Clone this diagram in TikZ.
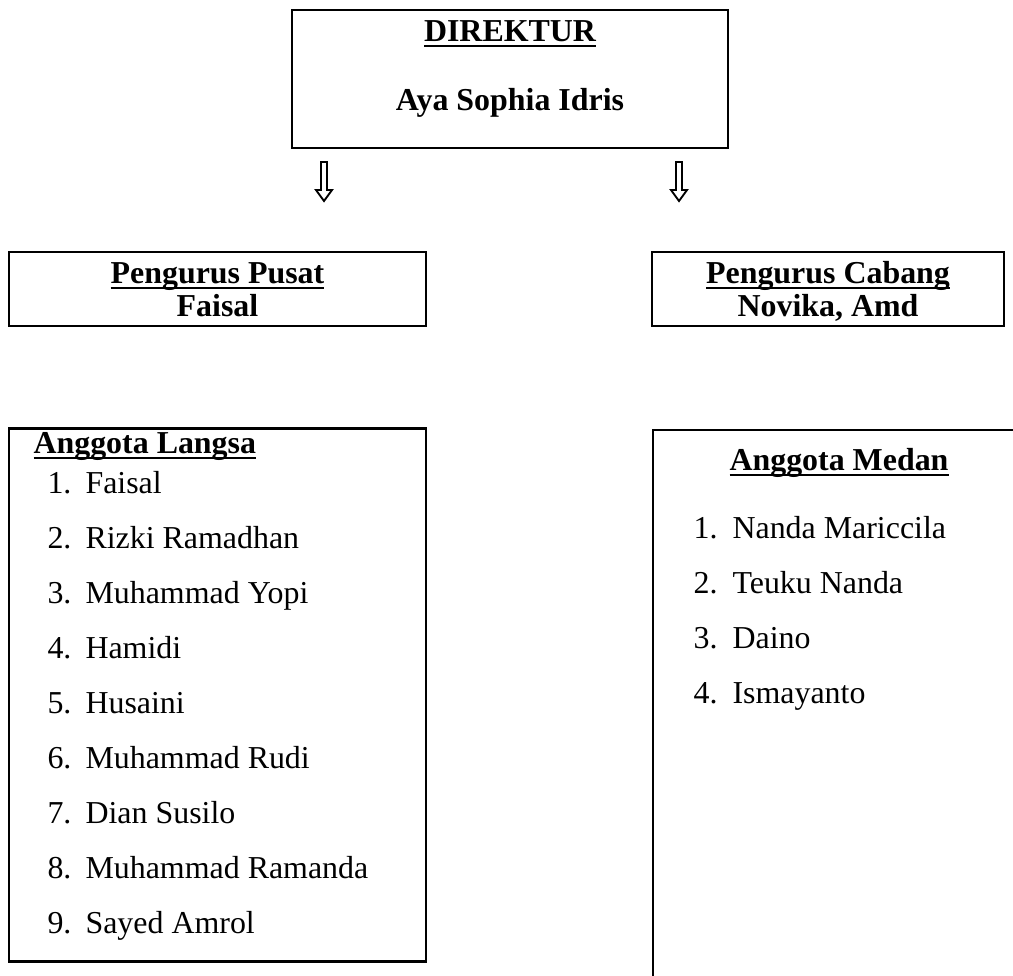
\documentclass[tikz,border=0pt]{standalone}
\usepackage{fontspec}
\setmainfont{Liberation Serif}

% thick underline as in the original
\newsavebox\ulsave
\newcommand\ulbox[1]{\sbox\ulsave{#1}\rlap{\rule[-2.3pt]{\wd\ulsave}{0.9pt}}\usebox\ulsave}

\begin{document}
\begin{tikzpicture}[x=0.376pt,y=-0.376pt,
  box/.style={draw,line width=0.9pt,rectangle,inner sep=0pt},
  head/.style={font=\fontsize{12}{14}\selectfont\bfseries,anchor=base,inner sep=0pt},
  member/.style={font=\fontsize{12}{14}\selectfont,anchor=base west,inner sep=0pt},
  hollow/.style={draw,line width=0.7pt,line join=miter,fill=white}]
  \clip (0,0) rectangle (1013,975);
  \fill[white] (0,0) rectangle (1013,975);

  % direktur
  \node[box,minimum width=163.9pt,minimum height=51.9pt] (dir) at (510,79) {};
  \node[head] (dirT) at (510,41) {\ulbox{DIREKTUR}};
  \node[head] (dirN) at (510,110) {Aya Sophia Idris};

  % arrows
  \coordinate (arL) at (324,162);
  \coordinate (arR) at (679,162);
  \foreach \a in {arL,arR}
    \draw[hollow] (\a) ++(-3,0) -- ++(0,28) -- ++(-5,0) -- ++(8,11) -- ++(8,-11)
      -- ++(-5,0) -- ++(0,-28) -- cycle;

  % pengurus
  \node[box,minimum width=156.8pt,minimum height=27.8pt] (pusat) at (217.5,289) {};
  \node[head] (pusatT) at (217.5,283) {\ulbox{Pengurus Pusat}};
  \node[head] (pusatN) at (217.5,316) {Faisal};
  \node[box,minimum width=132.4pt,minimum height=27.8pt] (cabang) at (828,289) {};
  \node[head] (cabangT) at (828,283) {\ulbox{Pengurus Cabang}};
  \node[head] (cabangN) at (828,316) {Novika, Amd};

  % anggota langsa
  \node[box,minimum width=156.8pt,minimum height=200.5pt] (langsa) at (217.5,695) {};
  \node[head,anchor=base west] (langsaT) at (33,453) {\ulbox{Anggota Langsa}};
  \foreach \nm [count=\i] in {Faisal,Rizki Ramadhan,Muhammad Yopi,Hamidi,Husaini,
    Muhammad Rudi,Dian Susilo,Muhammad Ramanda,Sayed Amrol}{
    \node[member] (lsNo\i) at (47,{493+55*(\i-1)}) {\i.};
    \node[member] (lsNm\i) at (85,{493+55*(\i-1)}) {\nm};
  }

  % anggota medan
  \node[box,minimum width=150.4pt,minimum height=225.6pt] (medan) at (853,730) {};
  \node[head] (medanT) at (839,470) {\ulbox{Anggota Medan}};
  \foreach \nm [count=\i] in {Nanda Mariccila,Teuku Nanda,Daino,Ismayanto}{
    \node[member] (mdNo\i) at (693,{538+55*(\i-1)}) {\i.};
    \node[member] (mdNm\i) at (732,{538+55*(\i-1)}) {\nm};
  }
\end{tikzpicture}
\end{document}
